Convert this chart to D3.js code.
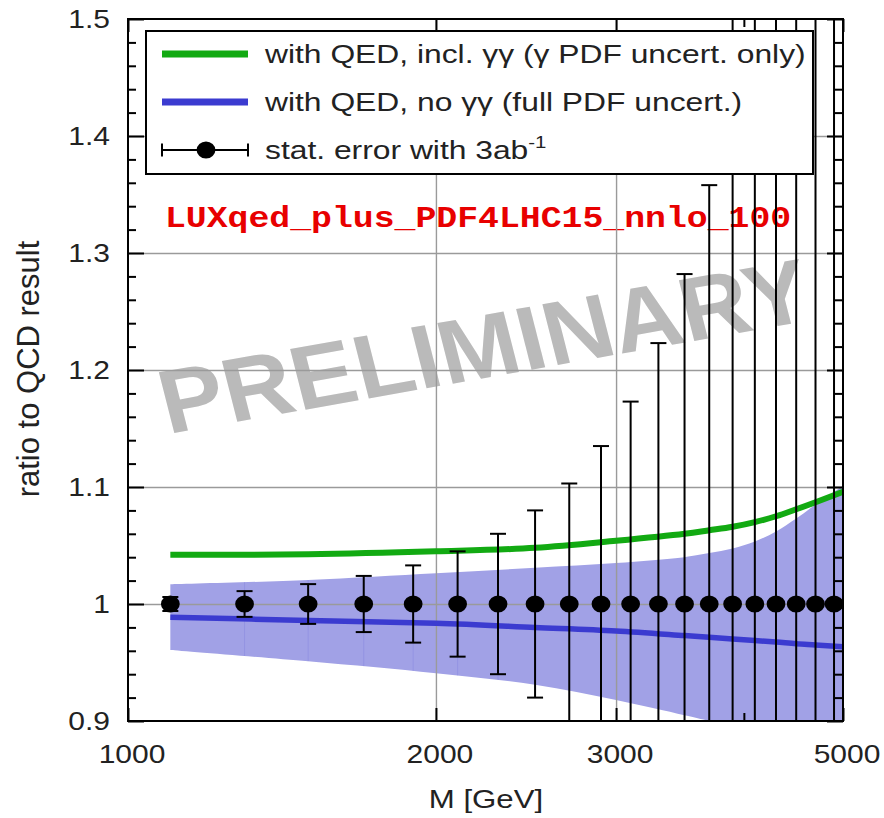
<!DOCTYPE html>
<html>
<head>
<meta charset="utf-8">
<script src="https://cdn.jsdelivr.net/npm/d3@7"></script>
<style>
  html, body { margin: 0; padding: 0; background: #fff; }
  svg { display: block; }
  text { font-family: "Liberation Sans", Arial, Helvetica, sans-serif; fill: #222; }
</style>
</head>
<body>
<svg id="chart" width="884" height="818"></svg>
<script>
// ---- data -------------------------------------------------------------
// invariant-mass bin centres [GeV] for the pseudo-data points
const binMass  = [1100, 1300, 1500, 1700, 1900, 2100, 2300, 2500, 2700, 2900,
                  3100, 3300, 3500, 3700, 3900, 4100, 4300, 4500, 4700, 4900];
const binRatio = [1, 1, 1, 1, 1, 1, 1, 1, 1, 1, 1, 1, 1, 1, 1, 1, 1, 1, 1, 1];
// statistical error with 3 ab^-1
const statErr  = [0.006, 0.011, 0.017, 0.024, 0.033, 0.045, 0.060, 0.080, 0.103, 0.135,
                  0.173, 0.223, 0.282, 0.358, 0.52, 0.68, 0.88, 1.12, 1.42, 1.80];

// theory curves sampled in M [GeV]
const curveMass  = [1100, 1500, 2000, 2500, 3000, 3500, 3700, 3900, 4100, 4300, 4500, 4700, 5000];
const withGamma  = [1.042, 1.0425, 1.045, 1.048, 1.054, 1.060, 1.063, 1.066, 1.070, 1.075, 1.081, 1.087, 1.096];
const noGamma    = [0.9886, 0.986, 0.9835, 0.980, 0.977, 0.973, 0.9715, 0.970, 0.9688, 0.9675, 0.966, 0.965, 0.9635];
const pdfBandHi  = [1.0168, 1.0205, 1.0262, 1.031, 1.035, 1.040, 1.0435, 1.0475, 1.0535, 1.062, 1.073, 1.085, 1.101];
const pdfBandLo  = [0.9607, 0.951, 0.9408, 0.931, 0.918, 0.905, 0.900, 0.894, 0.888, 0.882, 0.876, 0.871, 0.863];

const xTickValues = [1000, 2000, 3000, 5000];
const xMinorTicks = [4000];
const yTickValues = [0.9, 1, 1.1, 1.2, 1.3, 1.4, 1.5];
const yTickLabels = ["0.9", "1", "1.1", "1.2", "1.3", "1.4", "1.5"];

const legendLabels = [
  "with QED, incl. \u03b3\u03b3 (\u03b3 PDF uncert. only)",
  "with QED, no \u03b3\u03b3 (full PDF uncert.)",
  "stat. error with 3ab"
];
const pdfSetName = "LUXqed_plus_PDF4LHC15_nnlo_100";
const watermark = "PRELIMINARY";

// ---- layout -----------------------------------------------------------
const svg = d3.select("#chart");
const X0 = 128, X1 = 843, Y0 = 19, Y1 = 721;
const SX = 1.2;   // horizontal stretch of the lettering

const x = d3.scaleLog().domain([1000, 5000]).range([X0, X1]);
const y = d3.scaleLinear().domain([0.9, 1.5]).range([Y1, Y0]);

const GREEN = "#12aa12", BLUE = "#3b3bd0", BAND = "#a1a1e6", GRID = "#9a9a9a";
const smooth = d3.curveCatmullRom.alpha(0.5);

const defs = svg.append("defs");
defs.append("clipPath").attr("id", "plotClip")
  .append("rect").attr("x", X0).attr("y", Y0).attr("width", X1 - X0).attr("height", Y1 - Y0);

// watermark (slightly condensed bold lettering, tilted)
svg.append("text")
  .attr("transform", `translate(168,434) scale(${SX},1) rotate(-12) scale(0.895,1)`)
  .style("font-size", "90px").style("font-weight", "bold")
  .style("fill", "#bababa")
  .text(watermark);

// PDF set name
svg.append("text")
  .attr("transform", `translate(165,227) scale(${SX},1)`)
  .style("font-family", "'Liberation Mono', 'Courier New', monospace")
  .style("font-size", "29px").style("font-weight", "bold")
  .style("fill", "#e80000")
  .text(pdfSetName);

const plot = svg.append("g").attr("clip-path", "url(#plotClip)");

// PDF uncertainty band
const curvePts = curveMass.map((m, i) => ({ m, hi: pdfBandHi[i], lo: pdfBandLo[i], g: withGamma[i], b: noGamma[i] }));
const bandArea = d3.area().x(d => x(d.m)).y0(d => y(d.lo)).y1(d => y(d.hi)).curve(smooth);
plot.append("path").datum(curvePts).attr("d", bandArea).attr("fill", BAND);

// faint seams of the band at the bin centres
defs.append("clipPath").attr("id", "bandClip")
  .append("path").datum(curvePts).attr("d", bandArea);
plot.append("g").attr("clip-path", "url(#bandClip)")
  .selectAll("line")
  .data(binMass.slice(1))
  .join("line")
  .attr("x1", d => x(d)).attr("x2", d => x(d))
  .attr("y1", Y0).attr("y2", Y1)
  .attr("stroke", "#6f6fd8").attr("stroke-width", 1).attr("opacity", 0.25);

// grid lines
plot.append("g")
  .attr("transform", `translate(${X0},0)`)
  .call(d3.axisLeft(y).tickValues([1, 1.1, 1.2, 1.3, 1.4]).tickSize(-(X1 - X0)).tickFormat(""))
  .call(g => g.select(".domain").remove())
  .call(g => g.selectAll("line").attr("stroke", GRID).attr("stroke-width", 1.4));
plot.append("g")
  .attr("transform", `translate(0,${Y1})`)
  .call(d3.axisBottom(x).tickValues([2000, 3000]).tickSize(-(Y1 - Y0)).tickFormat(""))
  .call(g => g.select(".domain").remove())
  .call(g => g.selectAll("line").attr("stroke", GRID).attr("stroke-width", 1.4));

// theory curves
plot.append("path").datum(curvePts)
  .attr("d", d3.line().x(d => x(d.m)).y(d => y(d.b)).curve(smooth))
  .attr("fill", "none").attr("stroke", BLUE).attr("stroke-width", 5.5);
plot.append("path").datum(curvePts)
  .attr("d", d3.line().x(d => x(d.m)).y(d => y(d.g)).curve(smooth))
  .attr("fill", "none").attr("stroke", GREEN).attr("stroke-width", 6);

// pseudo-data with statistical errors
const pts = binMass.map((m, i) => ({ m, v: binRatio[i], e: statErr[i] }));
const eb = plot.append("g").selectAll("g").data(pts).join("g");
eb.append("line")
  .attr("x1", d => x(d.m)).attr("x2", d => x(d.m))
  .attr("y1", d => y(d.v - d.e)).attr("y2", d => y(d.v + d.e))
  .attr("stroke", "#000").attr("stroke-width", 2);
eb.selectAll("line.cap").data(d => [[d.m, d.v - d.e], [d.m, d.v + d.e]]).join("line")
  .attr("class", "cap")
  .attr("x1", d => x(d[0]) - 8).attr("x2", d => x(d[0]) + 8)
  .attr("y1", d => y(d[1])).attr("y2", d => y(d[1]))
  .attr("stroke", "#000").attr("stroke-width", 2);
eb.append("ellipse")
  .attr("cx", d => x(d.m)).attr("cy", d => y(d.v))
  .attr("rx", 9.4).attr("ry", 8.6).attr("fill", "#000");

// ---- legend -----------------------------------------------------------
const leg = svg.append("g");
leg.append("rect").attr("x", 146).attr("y", 31).attr("width", 667).attr("height", 143)
  .attr("fill", "#fff").attr("stroke", "#000").attr("stroke-width", 2);
const rowY = [54, 102, 150];
leg.append("line").attr("x1", 162).attr("x2", 248).attr("y1", rowY[0]).attr("y2", rowY[0])
  .attr("stroke", GREEN).attr("stroke-width", 7);
leg.append("line").attr("x1", 162).attr("x2", 248).attr("y1", rowY[1]).attr("y2", rowY[1])
  .attr("stroke", BLUE).attr("stroke-width", 7);
leg.append("line").attr("x1", 162).attr("x2", 248).attr("y1", rowY[2]).attr("y2", rowY[2])
  .attr("stroke", "#000").attr("stroke-width", 2);
[162, 248].forEach(cx => leg.append("line").attr("x1", cx).attr("x2", cx)
  .attr("y1", rowY[2] - 6.5).attr("y2", rowY[2] + 6.5).attr("stroke", "#000").attr("stroke-width", 2));
leg.append("ellipse").attr("cx", 206).attr("cy", rowY[2]).attr("rx", 9.4).attr("ry", 8.6).attr("fill", "#000");
legendLabels.forEach((t, i) => {
  const tx = leg.append("text")
    .attr("transform", `translate(265,${rowY[i] + 9}) scale(${SX},1)`)
    .style("font-size", "26.5px").text(t);
  if (i === 2) tx.append("tspan").attr("dy", -11).style("font-size", "17px").text("-1");
});

// ---- axes & frame -----------------------------------------------------
const axisStyle = g => g.call(s => s.select(".domain").remove())
  .call(s => s.selectAll("line").attr("stroke", "#000").attr("stroke-width", 2))
  .call(s => s.selectAll("text").remove());
const yMinor = d3.range(0.92, 1.5, 0.02).filter(v => Math.abs(v * 10 - Math.round(v * 10)) > 1e-6);

svg.append("g").attr("transform", `translate(${X0},0)`)
  .call(d3.axisLeft(y).tickValues(yTickValues).tickSize(-16)).call(axisStyle);
svg.append("g").attr("transform", `translate(${X0},0)`)
  .call(d3.axisLeft(y).tickValues(yMinor).tickSize(-8)).call(axisStyle);
svg.append("g").attr("transform", `translate(${X1},0)`)
  .call(d3.axisRight(y).tickValues(yTickValues).tickSize(-16)).call(axisStyle);
svg.append("g").attr("transform", `translate(${X1},0)`)
  .call(d3.axisRight(y).tickValues(yMinor).tickSize(-8)).call(axisStyle);
svg.append("g").attr("transform", `translate(0,${Y1})`)
  .call(d3.axisBottom(x).tickValues(xTickValues).tickSize(-13)).call(axisStyle);
svg.append("g").attr("transform", `translate(0,${Y1})`)
  .call(d3.axisBottom(x).tickValues(xMinorTicks).tickSize(-8)).call(axisStyle);
svg.append("g").attr("transform", `translate(0,${Y0})`)
  .call(d3.axisTop(x).tickValues(xTickValues).tickSize(-13)).call(axisStyle);
svg.append("g").attr("transform", `translate(0,${Y0})`)
  .call(d3.axisTop(x).tickValues(xMinorTicks).tickSize(-8)).call(axisStyle);

svg.append("rect").attr("x", X0).attr("y", Y0).attr("width", X1 - X0).attr("height", Y1 - Y0)
  .attr("fill", "none").attr("stroke", "#000").attr("stroke-width", 2);

// tick labels
svg.append("g").selectAll("text").data(yTickValues).join("text")
  .attr("transform", (d, i) => `translate(110,${y(d) + 9}) scale(${SX},1)`)
  .attr("text-anchor", "end").style("font-size", "25px")
  .text((d, i) => yTickLabels[i]);
svg.append("g").selectAll("text").data(xTickValues).join("text")
  .attr("transform", d => `translate(${x(d) + 4},763) scale(${SX},1)`)
  .attr("text-anchor", "middle").style("font-size", "25px")
  .text(d => d3.format("d")(d));

// axis titles
svg.append("text")
  .attr("transform", `translate(486,808) scale(${SX},1)`)
  .attr("text-anchor", "middle").style("font-size", "26px")
  .text("M [GeV]");
svg.append("text")
  .attr("transform", `translate(39,369) rotate(-90)`)
  .attr("text-anchor", "middle").style("font-size", "31px")
  .text("ratio to QCD result");
</script>
</body>
</html>
